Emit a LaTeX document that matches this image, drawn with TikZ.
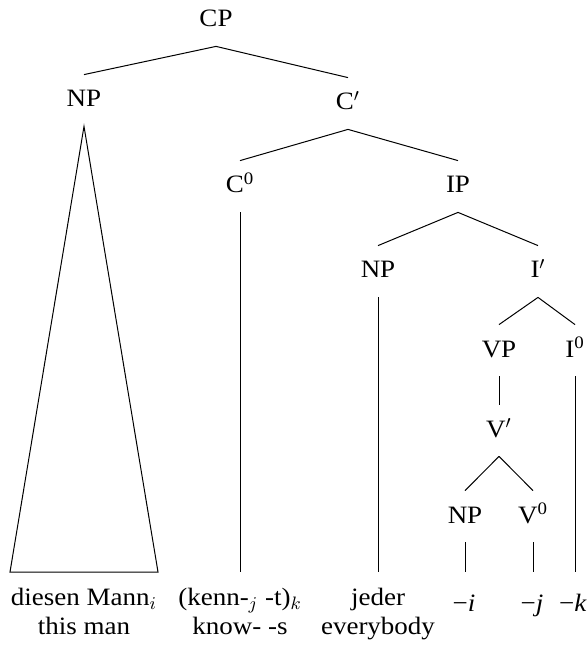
\documentclass[tikz,border=0pt]{standalone}
\usepackage{fontspec}
\setmainfont{Liberation Serif}[FakeStretch=1.08]
\begin{document}
\begin{tikzpicture}[x=0.5pt,y=-0.5pt,
  every node/.style={font=\fontsize{12.5}{14.5}\selectfont},
  cat/.style={anchor=base, text height=9.5pt, text depth=3pt, inner ysep=6.5pt, inner xsep=1pt},
  leaf/.style={anchor=north, align=center, inner ysep=6.5pt, inner xsep=0pt},
  leafb/.style={anchor=base, text height=9.5pt, text depth=3pt, inner ysep=10pt, inner xsep=0pt},
  edge/.style={line width=0.5pt}]
\useasboundingbox (0,0) rectangle (587,646);
% categories
\node[cat] (CP)  at (216,27)  {CP};
\node[cat] (NPa) at (84,107)  {NP};
\node[cat] (Cb)  at (348,110) {C$'$};
\node[cat] (C0)  at (240,193) {C\textsuperscript{0}};
\node[cat] (IP)  at (458,193) {IP};
\node[cat] (NPb) at (378,278) {NP};
\node[cat] (Ib)  at (538,278) {I$'$};
\node[cat] (VP)  at (499,357) {VP};
\node[cat] (I0)  at (575,357) {I\textsuperscript{0}};
\node[cat] (Vb)  at (499,437) {V$'$};
\node[cat] (NPc) at (465,523) {NP};
\node[cat] (V0)  at (533,523) {V\textsuperscript{0}};
% leaves
\node[leaf] (L1) at (84,572)  {\rule{0pt}{10pt}diesen Mann$_i$\\this man};
\node[leaf] (L2) at (240,572) {\rule{0pt}{10pt}(kenn-$_j$ -t)$_k$\\know- -s};
\node[leaf] (L3) at (378,572) {\rule{0pt}{10pt}jeder\\everybody};
\node[leafb] (L4) at (464,611) {−\textit{i}};
\node[leafb] (L5) at (532,611) {−\textit{j}};
\node[leafb] (L6) at (573,611) {−\textit{k}};
\coordinate (TL) at (10,572);
\coordinate (TR) at (158,572);
% edges
\draw[edge] (CP.south) -- (NPa.north);
\draw[edge] (CP.south) -- (Cb.north);
\draw[edge] (Cb.south) -- (C0.north);
\draw[edge] (Cb.south) -- (IP.north);
\draw[edge] (IP.south) -- (NPb.north);
\draw[edge] (IP.south) -- (Ib.north);
\draw[edge] (Ib.south) -- (VP.north);
\draw[edge] (Ib.south) -- (I0.north);
\draw[edge] (VP.south) -- (Vb.north);
\draw[edge] (Vb.south) -- (NPc.north);
\draw[edge] (Vb.south) -- (V0.north);
\draw[edge] (NPa.south) -- (TL) -- (TR) -- cycle;
\draw[edge] (C0.south) -- (C0.south |- L2.north);
\draw[edge] (NPb.south) -- (NPb.south |- L3.north);
\draw[edge] (NPc.south) -- (NPc.south |- L4.north);
\draw[edge] (V0.south) -- (V0.south |- L5.north);
\draw[edge] (I0.south) -- (I0.south |- L6.north);
\end{tikzpicture}
\end{document}
